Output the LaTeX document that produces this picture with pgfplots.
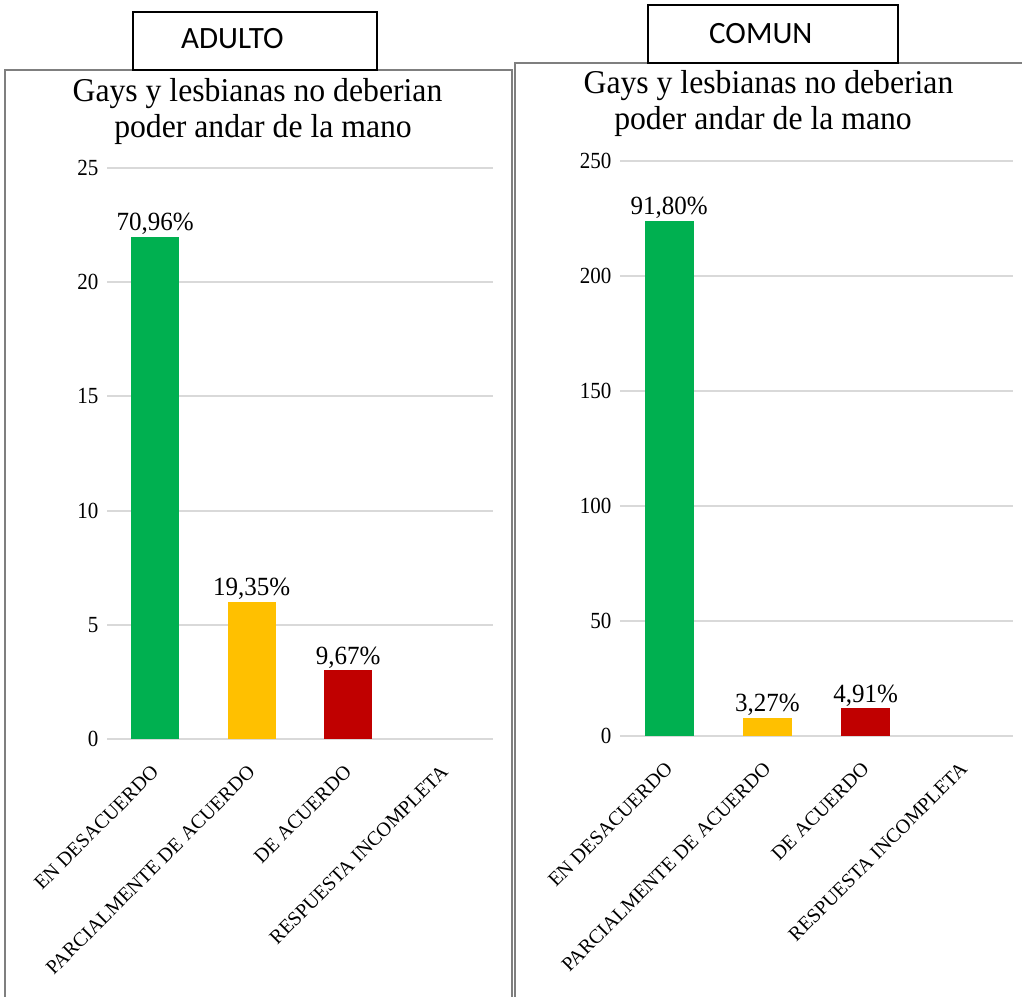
\documentclass[border=0pt]{standalone}
\usepackage{pgfplots}
\pgfplotsset{compat=1.18}
\usepackage{fontspec}
\setmainfont{Liberation Serif}
\newfontfamily\boxfont{Carlito}
\definecolor{cgreen}{HTML}{00B050}
\definecolor{cyellow}{HTML}{FFC000}
\definecolor{cred}{HTML}{C00000}
\definecolor{cgrid}{HTML}{D9D9D9}
\definecolor{cframe}{HTML}{7F7F7F}
\pgfplotsset{
  mychart/.style={
    scale only axis,
    ybar,
    xmin=-0.5, xmax=3.5,
    xtick={0,1,2,3},
    xticklabels={EN DESACUERDO, PARCIALMENTE DE ACUERDO, DE ACUERDO, RESPUESTA INCOMPLETA},
    ymin=0,
    axis line style={draw=none},
    major tick length=0pt,
    ymajorgrids,
    grid style={cgrid, line width=2bp},
    /pgf/number format/assume math mode=true,
    yticklabel style={font=\fontsize{21bp}{24bp}\selectfont, anchor=east, xshift=-5bp, yscale=1.1},
    xticklabel style={font=\fontsize{20bp}{23bp}\selectfont, xshift=-5bp, yshift=-22bp, rotate=45, anchor=north east, inner sep=2bp},
    every node near coord/.append style={font=\fontsize{25bp}{28bp}\selectfont, anchor=south, inner sep=2bp, yscale=1.05},
    nodes near coords,
    point meta=explicit symbolic,
  }
}
\begin{document}
\begin{tikzpicture}
\begin{scope}[x=1bp, y=-1bp]
\useasboundingbox (0,0) rectangle (1022,997);
% frames
\draw[cframe, line width=1.5bp] (5,997) -- (5,70) -- (512,70) -- (512,997);
\draw[cframe, line width=1.5bp] (515,997) -- (515,63) -- (1022,63);
% header boxes
\draw[black, line width=2.5bp, fill=white] (133,12) rectangle (377,70);
\node[anchor=base west, inner sep=0pt] at (181,48) {\boxfont\fontsize{31bp}{31bp}\selectfont ADULTO};
\draw[black, line width=2.5bp, fill=white] (648,5) rectangle (898,63);
\node[anchor=base west, inner sep=0pt] at (709,43) {\boxfont\fontsize{31bp}{31bp}\selectfont COMUN};
% titles
\node[anchor=base, inner sep=0pt, yscale=1.05] at (257.5,101) {\fontsize{31.7bp}{36bp}\selectfont Gays y lesbianas no deberian};
\node[anchor=base, inner sep=0pt, yscale=1.05] at (263,137) {\fontsize{31.7bp}{36bp}\selectfont poder andar de la mano};
\node[anchor=base, inner sep=0pt, yscale=1.05] at (768.5,93) {\fontsize{31.7bp}{36bp}\selectfont Gays y lesbianas no deberian};
\node[anchor=base, inner sep=0pt, yscale=1.05] at (763,129) {\fontsize{31.7bp}{36bp}\selectfont poder andar de la mano};
\end{scope}

\begin{axis}[mychart, at={(107bp,-739bp)}, anchor=south west, width=386bp, height=571bp,
  ymax=25, ytick={0,5,10,15,20,25}, bar width=48bp]
\addplot[fill=cgreen, draw=none, bar shift=0pt] coordinates {(0,22) [70,96\%]};
\addplot[fill=cyellow, draw=none, bar shift=0pt] coordinates {(1,6) [19,35\%]};
\addplot[fill=cred, draw=none, bar shift=0pt] coordinates {(2,3) [9,67\%]};
\end{axis}

\begin{axis}[mychart, at={(620bp,-736bp)}, anchor=south west, width=393bp, height=575bp,
  ymax=250, ytick={0,50,100,150,200,250}, bar width=49bp]
\addplot[fill=cgreen, draw=none, bar shift=0pt] coordinates {(0,224) [91,80\%]};
\addplot[fill=cyellow, draw=none, bar shift=0pt] coordinates {(1,8) [3,27\%]};
\addplot[fill=cred, draw=none, bar shift=0pt] coordinates {(2,12) [4,91\%]};
\end{axis}
\end{tikzpicture}
\end{document}
